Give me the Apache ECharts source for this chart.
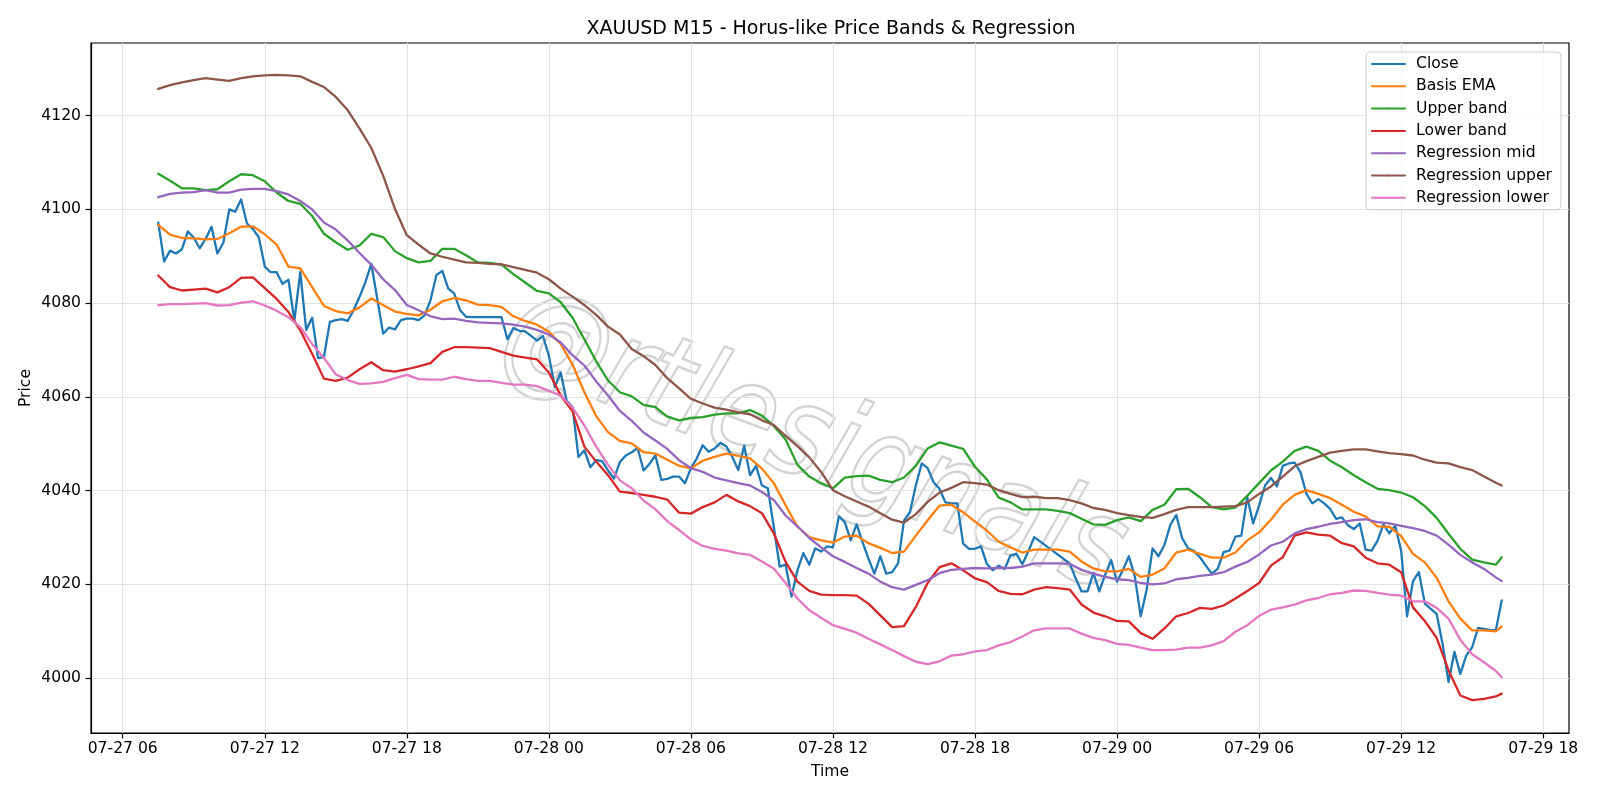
<!DOCTYPE html>
<html>
<head>
<meta charset="utf-8">
<title>XAUUSD M15</title>
<script src="https://cdn.jsdelivr.net/npm/echarts@6/dist/echarts.min.js"></script>
<style>
  html, body { margin: 0; padding: 0; background: #fff; }
  #main { width: 1600px; height: 800px; }
</style>
</head>
<body>
<div id="main"></div>
<script>
// close, 15 minute bars, three sessions (market pause around 21:00)
var sessionStarts = ['27 07:30', '27 22:00', '28 22:00']
var closeA = [
  4097.2, 4088.9, 4091.2, 4090.6, 4091.5, 4095.3, 4094.0, 4091.7, 4093.7, 4096.3, 4090.6, 4092.9,
  4100.0, 4099.5, 4102.1, 4097.0, 4095.8, 4094.0,
  4087.8, 4086.6, 4086.6, 4084.1, 4085.0, 4076.3, 4086.6, 4074.3, 4076.9, 4068.3, 4068.5, 4076.0,
  4076.4, 4076.6, 4076.2, 4078.5, 4081.3, 4084.5, 4088.4, 4081.0, 4073.5, 4074.8, 4074.4, 4076.4,
  4076.7, 4076.7, 4076.4, 4077.4, 4080.6, 4086.0, 4086.9, 4083.1, 4082.1, 4078.5, 4077.1, 4077.0
]
var closeB = [
  4077.0, 4072.3, 4074.7, 4074.1, 4074.0, 4073.0, 4072.0, 4073.0,
  4068.8, 4062.1, 4065.2, 4059.2, 4057.8, 4047.2, 4048.6, 4045.0, 4046.5, 4046.3, 4044.3, 4042.6,
  4046.1, 4047.5, 4048.2, 4049.1, 4044.3, 4045.7, 4047.5, 4042.3, 4042.5, 4043.0, 4043.0, 4041.6,
  4044.8, 4046.9, 4049.7, 4048.3, 4049.0, 4050.2, 4049.4, 4047.2, 4044.4, 4049.6, 4043.3, 4045.3,
  4041.1, 4040.5, 4032.3, 4023.8, 4024.2, 4017.4, 4023.0, 4026.7, 4024.2, 4027.7, 4027.0, 4028.1,
  4027.9, 4034.5, 4033.3, 4029.4, 4032.8, 4029.0, 4025.5, 4022.3, 4026.0, 4022.3, 4022.6, 4024.5,
  4033.6, 4035.4, 4041.1, 4045.8, 4044.8, 4041.8, 4040.4, 4037.5, 4037.3, 4037.3, 4028.7, 4027.6,
  4027.6, 4028.1, 4024.4, 4023.0, 4024.0, 4023.3, 4026.2, 4026.5, 4024.3, 4027.0, 4030.1
]
var closeC = [
  4024.5, 4021.3, 4018.5, 4018.5, 4022.4, 4018.5, 4022.1, 4025.2,
  4020.6, 4023.1, 4026.0, 4021.7, 4013.2, 4018.9, 4027.7, 4026.0, 4028.4, 4032.7, 4034.8, 4029.9,
  4027.7, 4027.1, 4025.8, 4024.0, 4022.3, 4023.3, 4026.9, 4027.2, 4030.2, 4030.4, 4038.6, 4033.0,
  4036.8, 4041.1, 4042.7, 4040.9, 4045.3, 4045.8, 4046.0, 4043.9, 4039.3, 4037.3, 4038.2, 4037.3,
  4036.1, 4034.0, 4034.3, 4032.6, 4031.8, 4033.0, 4027.4, 4027.2, 4029.3, 4032.8, 4030.9, 4032.5,
  4027.2, 4013.2, 4020.7, 4022.6, 4015.9, 4014.8, 4013.7, 4007.3, 3999.2, 4005.6, 4000.9, 4004.8,
  4006.6, 4010.7, 4010.5, 4010.3, 4010.2, 4016.6
]

// bands and regression channel, read every half hour from 27 07:30, last point at 29 16:15
var bandStart = '27 07:30'
var bandEnd = '29 16:15'
var basisEma = [
  4096.7, 4094.6, 4093.9, 4093.8, 4093.6, 4093.7, 4094.9, 4096.3, 4096.4, 4094.7, 4092.5, 4087.8, 4087.4, 4083.4,
  4079.4, 4078.3, 4077.8, 4079.1, 4081.0, 4079.6, 4078.2, 4077.7, 4077.4, 4078.6, 4080.4, 4081.1, 4080.6, 4079.7,
  4079.6, 4079.2, 4077.2, 4076.2, 4075.4, 4073.9, 4071.3, 4066.9, 4061.0, 4055.9, 4052.5, 4050.6, 4050.1, 4048.2,
  4047.9, 4046.6, 4045.3, 4044.8, 4046.4, 4047.2, 4047.9, 4047.4, 4046.9, 4044.7, 4041.6, 4036.9, 4032.3, 4030.1,
  4029.4, 4028.9, 4030.2, 4030.4, 4028.8, 4027.8, 4026.7, 4027.0, 4030.4, 4033.7, 4036.8, 4037.0, 4035.4, 4033.4,
  4031.5, 4029.1, 4027.9, 4026.8, 4027.4, 4027.4, 4027.4, 4027.0, 4024.9, 4023.4, 4022.8, 4022.8, 4023.3, 4021.6,
  4022.1, 4023.4, 4026.8, 4027.4, 4026.5, 4025.7, 4025.7, 4026.8, 4029.4, 4031.1, 4033.8, 4037.0, 4039.1, 4040.1,
  4039.3, 4038.4, 4037.0, 4035.5, 4034.5, 4032.4, 4032.3, 4030.3, 4026.5, 4024.7, 4021.4, 4016.4, 4012.7, 4010.2,
  4010.2, 4010.0, 4011.0
]
var upperBand = [
  4107.6, 4106.1, 4104.5, 4104.5, 4104.1, 4104.3, 4106.0, 4107.5, 4107.3, 4106.0, 4103.6, 4101.8, 4101.2, 4098.6,
  4094.8, 4093.0, 4091.4, 4092.3, 4094.8, 4094.1, 4091.1, 4089.6, 4088.7, 4089.0, 4091.6, 4091.6, 4090.2, 4088.7,
  4088.6, 4088.2, 4086.2, 4084.4, 4082.6, 4082.1, 4080.2, 4076.9, 4072.3, 4067.6, 4063.5, 4061.0, 4060.1, 4058.3,
  4057.8, 4055.8, 4055.0, 4055.5, 4055.7, 4056.2, 4056.5, 4056.5, 4057.2, 4056.0, 4053.8, 4050.9, 4045.5, 4043.0,
  4041.6, 4040.5, 4042.8, 4043.1, 4043.2, 4042.3, 4041.8, 4042.8, 4045.3, 4049.0, 4050.3, 4049.6, 4048.9, 4045.1,
  4042.4, 4038.5, 4037.5, 4036.0, 4036.0, 4036.0, 4035.7, 4035.2, 4034.0, 4032.8, 4032.7, 4033.7, 4034.3, 4033.5,
  4035.9, 4037.0, 4040.3, 4040.4, 4038.6, 4036.5, 4036.0, 4036.4, 4038.9, 4041.6, 4044.3, 4046.2, 4048.5, 4049.4,
  4048.5, 4046.4, 4045.0, 4043.3, 4041.8, 4040.4, 4040.1, 4039.6, 4038.6, 4036.7, 4034.2, 4030.8, 4027.6, 4025.3,
  4024.7, 4024.2, 4025.8
]
var lowerBand = [
  4085.9, 4083.4, 4082.7, 4082.9, 4083.1, 4082.3, 4083.4, 4085.4, 4085.5, 4083.2, 4080.9, 4078.1, 4074.2, 4069.2,
  4063.9, 4063.4, 4064.1, 4065.9, 4067.4, 4065.7, 4065.4, 4065.9, 4066.5, 4067.2, 4069.6, 4070.6, 4070.6, 4070.5,
  4070.4, 4069.6, 4068.8, 4068.4, 4068.0, 4065.2, 4060.3, 4056.9, 4049.4, 4046.2, 4043.3, 4039.8, 4039.5, 4039.1,
  4038.7, 4038.1, 4035.3, 4035.1, 4036.5, 4037.5, 4039.1, 4037.7, 4036.7, 4035.2, 4030.9, 4024.8, 4020.6, 4018.6,
  4017.8, 4017.7, 4017.7, 4017.6, 4015.9, 4013.4, 4010.9, 4011.1, 4015.2, 4020.3, 4023.7, 4024.5, 4023.0, 4021.3,
  4020.5, 4018.6, 4018.0, 4017.9, 4018.9, 4019.4, 4019.2, 4018.9, 4015.7, 4014.0, 4013.2, 4012.2, 4012.1, 4009.6,
  4008.4, 4010.6, 4013.2, 4013.9, 4015.0, 4014.8, 4015.5, 4017.0, 4018.6, 4020.3, 4024.0, 4025.8, 4030.4, 4031.1,
  4030.6, 4030.4, 4028.8, 4028.1, 4025.7, 4024.5, 4024.2, 4022.6, 4015.1, 4012.2, 4008.6, 4001.7, 3996.3, 3995.3,
  3995.6, 3996.1, 3996.7
]
var regMid = [
  4102.6, 4103.3, 4103.6, 4103.7, 4104.1, 4103.6, 4103.6, 4104.2, 4104.4, 4104.4, 4103.9, 4103.2, 4101.8, 4100.0,
  4097.2, 4095.7, 4093.4, 4090.7, 4088.2, 4085.1, 4082.8, 4079.6, 4078.5, 4077.2, 4076.6, 4076.7, 4076.2, 4075.9,
  4075.8, 4075.7, 4075.4, 4075.0, 4074.3, 4073.3, 4071.6, 4068.9, 4066.7, 4063.3, 4060.3, 4057.0, 4054.9, 4052.4,
  4050.7, 4048.9, 4046.5, 4044.8, 4044.0, 4042.8, 4042.2, 4041.6, 4041.1, 4039.7, 4038.0, 4034.7, 4032.4, 4029.9,
  4027.9, 4026.0, 4024.8, 4023.5, 4022.3, 4020.6, 4019.4, 4018.9, 4019.9, 4020.9, 4022.4, 4023.1, 4023.3, 4023.5,
  4023.4, 4023.5, 4023.5, 4023.8, 4024.5, 4024.5, 4024.5, 4024.4, 4023.1, 4022.3, 4021.6, 4021.1, 4020.9, 4020.3,
  4020.0, 4020.2, 4021.1, 4021.4, 4021.8, 4022.1, 4022.6, 4023.8, 4024.8, 4026.4, 4028.3, 4029.1, 4030.9, 4031.8,
  4032.3, 4032.9, 4033.3, 4033.7, 4033.9, 4033.3, 4033.0, 4032.5, 4032.0, 4031.4, 4030.4, 4028.5, 4026.3, 4024.7,
  4023.3, 4021.5, 4020.7
]
var regUpper = [
  4125.7, 4126.5, 4127.1, 4127.6, 4128.0, 4127.7, 4127.4, 4128.0, 4128.4, 4128.6, 4128.7, 4128.6, 4128.4, 4127.2,
  4126.1, 4124.0, 4121.2, 4117.3, 4113.1, 4107.2, 4100.1, 4094.5, 4092.5, 4090.6, 4089.9, 4089.3, 4088.7, 4088.6,
  4088.4, 4088.3, 4087.7, 4087.1, 4086.5, 4085.1, 4083.1, 4081.4, 4079.6, 4077.5, 4075.0, 4073.3, 4070.2, 4068.7,
  4066.8, 4064.0, 4061.8, 4059.6, 4058.6, 4057.7, 4057.3, 4056.7, 4056.3, 4055.0, 4054.0, 4051.7, 4049.5, 4047.1,
  4044.0, 4040.1, 4038.8, 4037.7, 4036.6, 4035.2, 4033.8, 4033.2, 4035.0, 4037.6, 4039.6, 4040.6, 4041.8, 4041.6,
  4041.3, 4040.1, 4039.3, 4038.6, 4038.7, 4038.4, 4038.4, 4038.0, 4037.3, 4036.3, 4035.9, 4035.2, 4034.8, 4034.4,
  4034.2, 4035.0, 4035.9, 4036.5, 4036.5, 4036.5, 4036.6, 4036.7, 4037.5, 4039.3, 4040.9, 4043.0, 4045.2, 4046.3,
  4047.2, 4048.1, 4048.5, 4048.8, 4048.8, 4048.4, 4048.0, 4047.8, 4047.5, 4046.6, 4046.0, 4045.8, 4045.0, 4044.4,
  4043.0, 4041.7, 4041.1
]
var regLower = [
  4079.6, 4079.8, 4079.8, 4079.9, 4080.0, 4079.5, 4079.6, 4080.1, 4080.4, 4079.5, 4078.4, 4077.0, 4074.9, 4071.3,
  4068.3, 4064.8, 4063.6, 4062.8, 4062.9, 4063.2, 4064.0, 4064.7, 4063.8, 4063.7, 4063.7, 4064.3, 4063.8, 4063.4,
  4063.4, 4063.0, 4062.6, 4062.6, 4062.3, 4061.3, 4060.3, 4057.7, 4053.9, 4049.4, 4045.5, 4042.2, 4040.5, 4037.9,
  4036.0, 4033.5, 4031.6, 4029.6, 4028.2, 4027.6, 4027.2, 4026.6, 4026.3, 4024.9, 4023.4, 4020.3, 4017.0, 4014.5,
  4012.9, 4011.3, 4010.5, 4009.7, 4008.4, 4007.2, 4006.0, 4004.7, 4003.5, 4003.0, 4003.6, 4004.8, 4005.1, 4005.7,
  4006.0, 4007.0, 4007.7, 4008.9, 4010.2, 4010.6, 4010.6, 4010.6, 4009.5, 4008.6, 4008.1, 4007.3, 4007.1, 4006.5,
  4006.0, 4006.0, 4006.1, 4006.5, 4006.5, 4007.0, 4007.9, 4009.9, 4011.3, 4013.3, 4014.6, 4015.1, 4015.7, 4016.6,
  4017.1, 4017.9, 4018.2, 4018.7, 4018.6, 4018.2, 4017.8, 4017.6, 4016.4, 4016.4, 4015.0, 4012.7, 4008.2, 4005.1,
  4003.4, 4001.5, 4000.2
]

// axis ticks (x in hours from 07-27 00:00)
var xTicks = [6, 12, 18, 24, 30, 36, 42, 48, 54, 60, 66]
var yTicks = [4000, 4020, 4040, 4060, 4080, 4100, 4120]

// 'DD HH:MM' -> hours since 07-27 00:00
function toHours (s) {
  return (parseInt(s.slice(0, 2), 10) - 27) * 24 + parseInt(s.slice(3, 5), 10) + parseInt(s.slice(6, 8), 10) / 60
}
function pad (n) {
  return (n < 10 ? '0' : '') + n
}
function hourLabel (v) {
  var day = 27 + Math.floor(v / 24)
  return '07-' + day + ' ' + pad(Math.round(v % 24))
}

var closeData = []
;[closeA, closeB, closeC].forEach(function (vals, k) {
  var t0 = toHours(sessionStarts[k])
  vals.forEach(function (v, i) {
    closeData.push([t0 + i * 0.25, v])
  })
})
function bandData (vals) {
  var t0 = toHours(bandStart)
  return vals.map(function (v, i) {
    var t = i === vals.length - 1 ? toHours(bandEnd) : t0 + i * 0.5
    return [t, v]
  })
}

var font = 'DejaVu Sans'
var fs = 15.6
function lineSeries (name, data, color) {
  return {
    name: name,
    type: 'line',
    data: data,
    symbol: 'none',
    legendIcon: 'rect',
    lineStyle: { color: color, width: 2.3, join: 'round', cap: 'round' },
    itemStyle: { color: color }
  }
}

var myChart = echarts.init(document.getElementById('main'), null, { renderer: 'canvas' })
var option = {
  animation: false,
  backgroundColor: '#fff',
  textStyle: { fontFamily: font },
  title: {
    text: 'XAUUSD M15 - Horus-like Price Bands & Regression',
    left: 826,
    top: 15,
    textAlign: 'center',
    textStyle: { fontFamily: font, fontSize: 19, fontWeight: 'normal', color: '#000' }
  },
  legend: {
    orient: 'vertical',
    left: 1366,
    top: 52,
    padding: [4, 9, 4, 5],
    itemWidth: 33,
    itemHeight: 2.3,
    itemGap: 6.3,
    backgroundColor: 'rgba(255,255,255,0.8)',
    borderColor: '#cccccc',
    borderWidth: 1,
    borderRadius: 4,
    textStyle: { fontFamily: font, fontSize: fs, color: '#000', padding: [0, 0, 0, 6] },
    data: ['Close', 'Basis EMA', 'Upper band', 'Lower band', 'Regression mid', 'Regression upper', 'Regression lower']
  },
  grid: {
    left: 91,
    right: 31,
    top: 43,
    bottom: 67,
    show: true,
    borderColor: '#000',
    borderWidth: 1.2,
    backgroundColor: 'transparent'
  },
  xAxis: {
    type: 'value',
    min: 4.66,
    max: 67.09,
    name: 'Time',
    nameLocation: 'middle',
    nameGap: 31,
    nameTextStyle: { fontFamily: font, fontSize: fs, color: '#000' },
    axisLine: { lineStyle: { color: '#000', width: 1.2 } },
    axisTick: { customValues: xTicks, length: 5.4, lineStyle: { color: '#000', width: 1.2 } },
    axisLabel: {
      customValues: xTicks,
      margin: 8,
      fontFamily: font,
      fontSize: fs,
      color: '#000',
      formatter: hourLabel
    },
    splitLine: { show: true, lineStyle: { color: '#e3e3e3', width: 1.1 } }
  },
  yAxis: {
    type: 'value',
    min: 3988.3,
    max: 4135.5,
    name: 'Price',
    nameLocation: 'middle',
    nameGap: 57,
    nameMoveOverlap: false,
    nameTextStyle: { fontFamily: font, fontSize: fs, color: '#000' },
    axisLine: { show: true, lineStyle: { color: '#000', width: 1.2 } },
    axisTick: { show: true, customValues: yTicks, length: 5.4, lineStyle: { color: '#000', width: 1.2 } },
    axisLabel: {
      customValues: yTicks,
      margin: 10,
      fontFamily: font,
      fontSize: fs,
      color: '#000',
      formatter: function (v) { return String(v) }
    },
    splitLine: { show: true, lineStyle: { color: '#e3e3e3', width: 1.1 } }
  },
  graphic: [{
    // outlined watermark across the middle of the plot
    type: 'text',
    x: 812,
    y: 446,
    rotation: -0.36,
    scaleX: 1.06,
    scaleY: 1.25,
    z: 0,
    style: {
      text: '@rtlesignals',
      font: 'italic 100px "DejaVu Sans"',
      fill: 'rgba(255,255,255,0)',
      stroke: 'rgba(150,150,150,0.42)',
      lineWidth: 2,
      align: 'center',
      verticalAlign: 'middle'
    }
  }],
  series: [
    lineSeries('Close', closeData, '#1f77b4'),
    lineSeries('Basis EMA', bandData(basisEma), '#ff7f0e'),
    lineSeries('Upper band', bandData(upperBand), '#2ca02c'),
    lineSeries('Lower band', bandData(lowerBand), '#d62728'),
    lineSeries('Regression mid', bandData(regMid), '#9467bd'),
    lineSeries('Regression upper', bandData(regUpper), '#8c564b'),
    lineSeries('Regression lower', bandData(regLower), '#e377c2')
  ]
}
myChart.setOption(option)
</script>
</body>
</html>
